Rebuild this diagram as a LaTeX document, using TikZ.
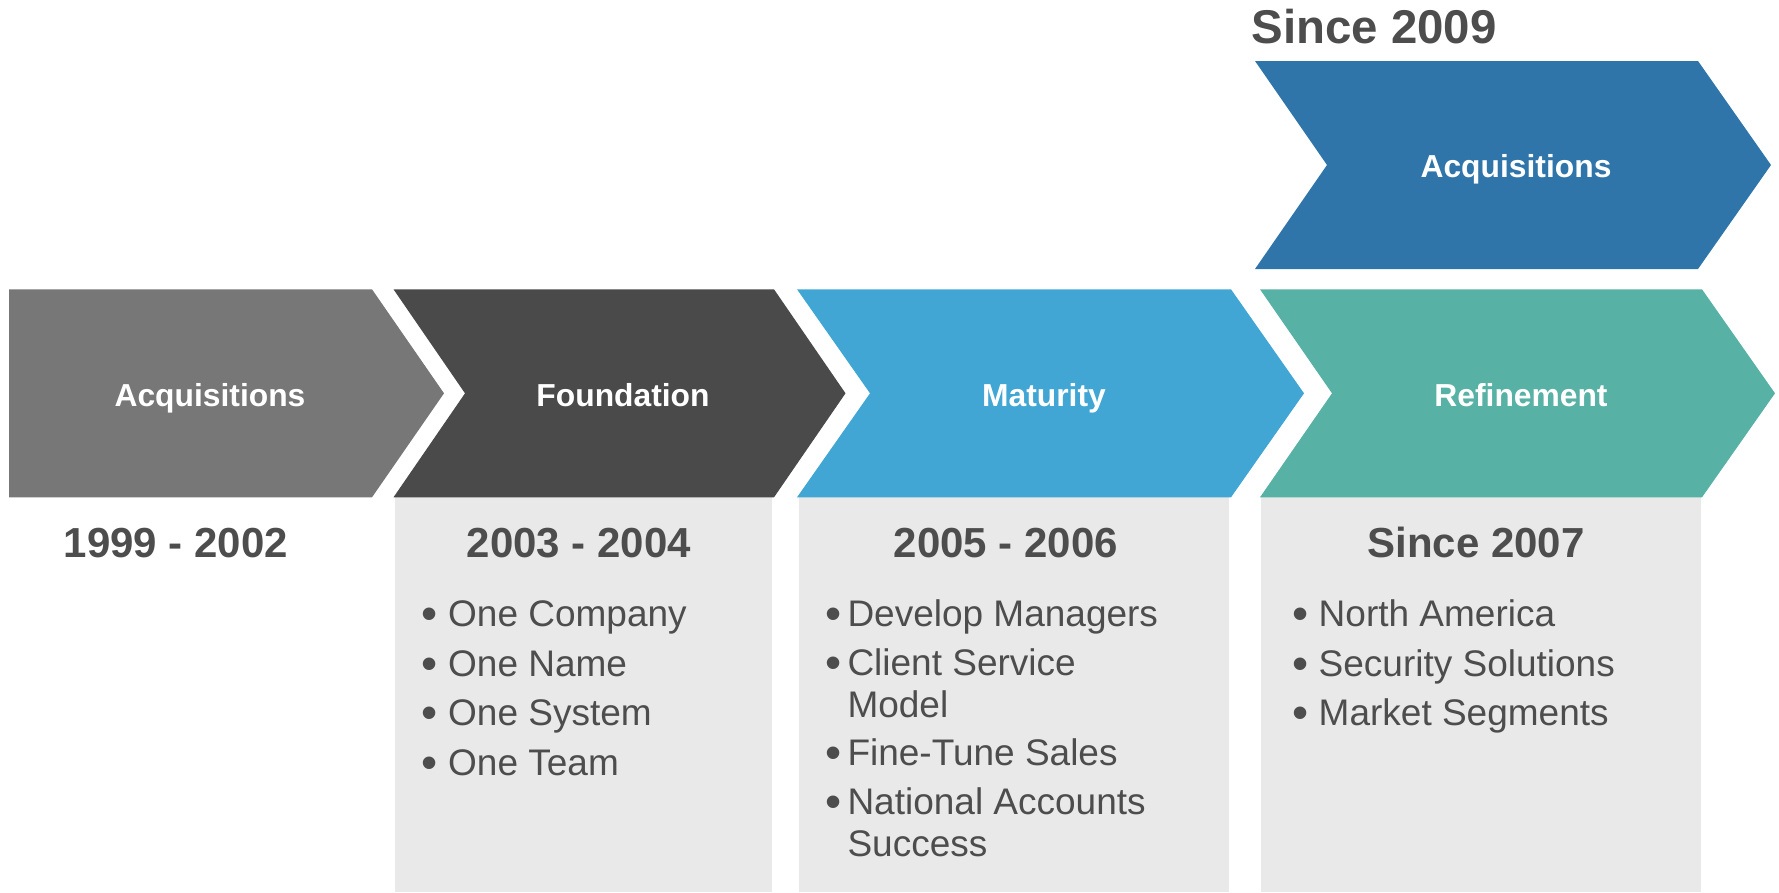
\documentclass[tikz,border=0pt]{standalone}
\usepackage{fontspec}
\newfontfamily\arialf{Liberation Sans}
\definecolor{cgray}{HTML}{777777}
\definecolor{cdark}{HTML}{4A4A4A}
\definecolor{cblue}{HTML}{41A6D3}
\definecolor{cteal}{HTML}{58B1A5}
\definecolor{cnavy}{HTML}{2F75AA}
\definecolor{cbox}{HTML}{E9E9E9}
\definecolor{ctext}{HTML}{4D4D4D}
\tikzset{
  lab/.style={font=\arialf\bfseries\fontsize{31.8bp}{38bp}\selectfont, text=white, anchor=base, inner sep=0pt},
  yearlab/.style={font=\arialf\bfseries\fontsize{42bp}{50bp}\selectfont, text=ctext, anchor=base, inner sep=0pt},
  item/.style={font=\arialf\fontsize{37bp}{42bp}\selectfont, text=ctext, anchor=base west, inner sep=0pt},
  bul/.style={font=\arialf\fontsize{46bp}{50bp}\selectfont, text=ctext, anchor=base, inner sep=0pt, yshift=-3bp},
}
\begin{document}
\begin{tikzpicture}[x=1bp,y=-1bp]
\useasboundingbox (0,0) rectangle (1779,892);
% grey boxes
\fill[cbox] (395,497.3) rectangle (772,892);
\fill[cbox] (799,497.3) rectangle (1229,892);
\fill[cbox] (1261,497.3) rectangle (1701,892);
% chevrons
\fill[cgray] (9,289.3) -- (372,289.3) -- (444,393.3) -- (372,497.3) -- (9,497.3) -- cycle;
\fill[cdark] (393.5,289.3) -- (774,289.3) -- (845.5,393.3) -- (774,497.3) -- (393.5,497.3) -- (465,393.3) -- cycle;
\fill[cblue] (797,289.3) -- (1231,289.3) -- (1304,393.3) -- (1231,497.3) -- (797,497.3) -- (870,393.3) -- cycle;
\fill[cteal] (1260,289.3) -- (1702,289.3) -- (1775,393.3) -- (1702,497.3) -- (1260,497.3) -- (1332,393.3) -- cycle;
\fill[cnavy] (1255,61) -- (1698,61) -- (1771,165) -- (1698,269) -- (1255,269) -- (1327,165) -- cycle;
% chevron labels
\node[lab] (l1) at (210,406) {Acquisitions};
\node[lab] (l2) at (623,406) {Foundation};
\node[lab] (l3) at (1044,406) {Maturity};
\node[lab] (l4) at (1521,406) {Refinement};
\node[lab] (l5) at (1516,177) {Acquisitions};
% titles
\node[font=\arialf\bfseries\fontsize{47.4bp}{56bp}\selectfont, text=ctext, anchor=base, inner sep=0pt] (since09) at (1374,43) {Since 2009};
\node[yearlab] (y1) at (176,557.3) {1999 - 2002};
\node[yearlab] (y2) at (579,557.3) {2003 - 2004};
\node[yearlab] (y3) at (1006,557.3) {2005 - 2006};
\node[yearlab] (y4) at (1476,557.3) {Since 2007};
% Foundation items
\node[bul] (fb1) at (430,626.7) {•};
\node[item] (f1) at (448,626.7) {One Company};
\node[bul] (fb2) at (430,676) {•};
\node[item] (f2) at (448,676) {One Name};
\node[bul] (fb3) at (430,725.7) {•};
\node[item] (f3) at (448,725.7) {One System};
\node[bul] (fb4) at (430,775) {•};
\node[item] (f4) at (448,775) {One Team};
% Maturity items
\node[bul] (mb1) at (833.3,626.7) {•};
\node[item] (m1) at (847.3,626.7) {Develop Managers};
\node[bul] (mb2) at (833.3,675) {•};
\node[item] (m2) at (847.3,675) {Client Service};
\node[item] (m2b) at (847.3,717.3) {Model};
\node[bul] (mb3) at (833.3,765.7) {•};
\node[item] (m3) at (847.3,765.7) {Fine-Tune Sales};
\node[bul] (mb4) at (833.3,814) {•};
\node[item] (m4) at (847.3,814) {National Accounts};
\node[item] (m4b) at (847.3,856) {Success};
% Refinement items
\node[bul] (rb1) at (1300.6,626.7) {•};
\node[item] (r1) at (1318.5,626.7) {North America};
\node[bul] (rb2) at (1300.6,676) {•};
\node[item] (r2) at (1318.5,676) {Security Solutions};
\node[bul] (rb3) at (1300.6,725.7) {•};
\node[item] (r3) at (1318.5,725.7) {Market Segments};
\end{tikzpicture}
\end{document}
